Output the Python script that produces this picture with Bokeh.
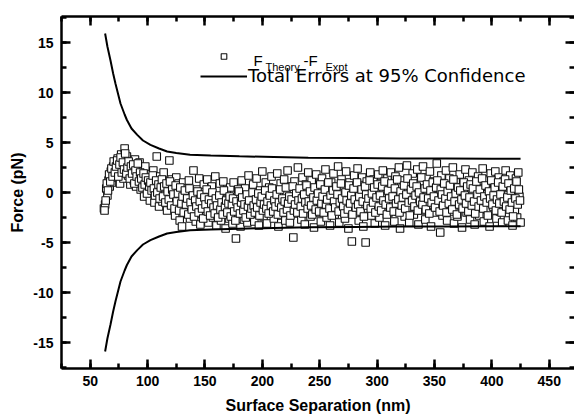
from bokeh.plotting import figure
from bokeh.models import (LinearAxis, SingleIntervalTicker, Range1d, Legend,
                          LegendItem, Label, CustomJSTickFormatter)
from bokeh.embed import file_html
from bokeh.resources import INLINE
import numpy as np

# ---- data ----
# residuals F_Theory - F_Expt, sampled on a 1 nm grid (two interleaved sweeps)
grid_a = (62, 425)
force_residual_a = [
    -1.6, -1.2, 0.4, -0.3, 1.2, 0.6, 2.1, 1.0, 2.6, 1.5,
    3.0, 1.8, 3.4, 2.2, 0.9, 3.8, 2.5, 1.4, 4.4, 2.9,
    3.6, 1.7, 2.8, 0.8, 3.1, 2.0, 1.2, 3.3, 0.6, 2.4,
    1.5, 3.0, 0.3, 2.1, 1.0, -0.4, 2.6, 1.2, 0.2, 1.8,
    -0.8, 1.4, 0.5, 2.2, -1.0, 0.9, 3.6, 0.1, -1.4, 1.6,
    0.4, -0.9, 2.0, -0.2, 1.1, -1.8, 0.7, 3.2, -0.5, 1.3,
    -1.2, 0.6, -2.3, 1.5, -0.3, 0.9, -2.8, 0.2, -3.4, 1.0,
    -1.5, 0.4, -2.0, -0.6, 1.2, -2.6, -0.1, -1.3, 2.2, -0.8,
    -2.9, 0.3, -1.6, 1.4, -3.2, -0.4, -1.9, 0.8, -2.4, -0.9,
    1.3, -3.0, -0.2, -1.7, 0.6, -2.5, -1.0, 1.6, -3.3, -0.5,
    -1.4, 0.9, -2.8, -0.7, 1.1, -2.1, -3.6, 0.2, -1.2, -2.6,
    0.5, -1.8, -3.1, 1.0, -0.6, -4.6, -2.2, 0.3, -1.5, -3.4,
    1.2, -0.9, -2.7, 0.4, -1.6, -3.0, 1.7, -0.3, -2.2, -1.1,
    0.8, -2.9, -0.5, 1.4, -1.9, -3.3, 0.2, -1.3, 2.1, -2.4,
    -0.7, 1.0, -3.1, -1.5, 0.5, -2.0, 1.6, -0.9, -2.6, 0.1,
    -1.7, 1.9, -3.4, -0.4, 0.9, -2.3, -1.0, 1.3, -2.8, -0.2,
    2.2, -1.4, -3.0, 0.6, -0.8, -4.5, 1.1, -2.1, -0.3, 2.5,
    -1.6, 0.3, -2.7, 1.5, -0.9, -3.2, 0.8, -1.8, 2.0, -0.5,
    -2.4, 1.2, -1.1, -3.5, 0.4, 1.8, -2.0, -0.6, 0.9, -2.9,
    1.4, -1.3, -0.2, 2.3, -2.5, 0.6, -1.7, -3.3, 1.0, -0.8,
    1.9, -2.2, 0.2, -1.0, 2.6, -3.0, -0.4, 1.3, -1.9, 0.7,
    -2.6, 2.1, -0.7, -3.6, 1.0, -1.4, -4.9, 0.4, 1.7, -2.1,
    -0.3, 2.4, -2.8, 0.8, -1.2, 1.5, -3.4, -0.1, -5.0, 1.1,
    -1.6, 0.5, 2.0, -2.3, -0.6, 1.3, -3.1, 0.2, -1.0, 1.8,
    -2.5, 0.9, -0.4, 2.2, -1.8, -3.3, 0.6, 1.4, -2.0, -0.7,
    2.0, -1.3, 0.3, -2.9, 1.6, -0.5, -1.9, 2.5, -3.6, 0.8,
    -1.1, 1.2, -2.4, 0.1, 2.7, -1.6, -3.0, 0.7, -0.4, 1.9,
    -2.2, 0.4, -1.4, 2.3, -3.2, -0.2, 1.0, -1.8, 2.6, -0.9,
    -2.7, 1.5, 0.2, -1.2, 2.1, -3.4, -0.5, 1.1, -2.0, 0.6,
    2.9, -1.5, -0.3, -4.0, 1.7, -2.3, 0.8, -1.0, 2.2, -2.8,
    -0.6, 1.4, -1.9, 0.3, 2.5, -3.1, -0.8, 1.0, -2.4, 0.5,
    1.8, -1.3, -3.5, 0.9, -0.4, 2.3, -2.0, -0.9, 1.2, -2.7,
    0.2, 2.0, -1.6, -3.2, 0.7, -0.7, 1.6, -2.3, 0.4, -1.1,
    2.4, -2.9, -0.2, 1.3, -1.7, 0.6, -3.4, 1.9, -0.5, -1.4,
    0.9, 2.1, -2.6, -0.8, 1.5, -1.9, 0.3, -3.0, 1.1, -0.6,
    2.2, -1.5, -2.8, 0.5, 1.7, -0.9, -3.3, 0.8, -1.8, 1.4,
    -2.5, 2.0, -0.4, -3.0,
]
grid_b = (62.5, 424.5)
force_residual_b = [
    -1.8, -0.8, 0.9, 0.2, 1.8, 1.1, 2.4, 1.6, 3.1, 2.0,
    2.6, 3.2, 1.6, 2.8, 3.5, 2.0, 3.0, 2.3, 3.9, 1.9,
    2.5, 3.1, 1.4, 2.6, 1.9, 2.8, 0.9, 2.2, 1.6, 2.9,
    1.1, 2.0, 1.4, 0.5, 1.9, 0.8, 1.5, -0.1, 1.2, 0.6,
    1.0, 0.2, 1.7, 0.4, -0.3, 1.2, 0.0, 0.8, -0.6, 0.5,
    1.3, -0.4, 0.6, -1.0, 0.9, 0.1, -0.7, 1.1, -1.3, 0.3,
    -0.2, -1.6, 0.7, -0.9, -0.1, -1.8, 0.5, -1.1, -0.4, -2.0,
    0.2, -1.2, -0.6, -2.2, 0.4, -1.0, -1.7, -0.3, -2.4, -0.8,
    -1.4, 0.1, -2.0, -0.9, -0.2, -1.6, -2.6, -0.5, -1.2, 0.3,
    -1.9, -0.7, -2.3, -1.1, 0.0, -1.5, -2.1, -0.6, -1.3, -2.5,
    -0.3, -1.7, -1.0, -2.2, 0.2, -1.4, -0.8, -2.0, -1.1, -0.4,
    -2.4, -1.2, -0.6, -1.9, -2.8, -0.9, -1.5, 0.1, -2.1, -1.0,
    -0.5, -1.8, -1.2, -2.5, -0.2, -1.4, -0.8, -2.2, -1.6, 0.0,
    -1.3, -2.0, -0.7, -1.5, -0.1, -2.3, -1.0, -0.4, -1.8, -1.2,
    0.2, -1.6, -0.9, -2.1, -0.3, -1.3, 0.4, -1.9, -0.8, -1.4,
    -0.2, -2.2, -1.0, 0.3, -1.5, -0.6, -2.0, -0.9, 0.5, -1.7,
    -1.1, -0.4, -2.3, -0.7, 0.6, -1.8, -1.2, -0.1, -2.0, -0.8,
    0.4, -1.4, -0.6, -2.1, -0.2, -1.0, 0.7, -1.6, -0.9, 0.1,
    -1.3, -2.2, -0.5, 0.5, -1.7, -0.8, -0.1, -1.9, 0.8, -1.1,
    -0.4, -2.0, 0.3, -1.2, -0.7, 1.0, -1.6, -0.3, -2.3, 0.2,
    -0.9, -1.5, 0.6, -0.2, -1.9, -1.0, 0.9, -0.6, -1.4, -2.1,
    0.0, -0.8, -1.7, 0.7, -1.1, -0.3, -2.2, 0.4, -0.7, -1.5,
    1.0, -1.2, -0.4, -1.9, 0.3, -0.9, -2.4, 0.6, -0.2, -1.3,
    -0.6, 1.2, -1.6, -0.1, -1.0, 0.5, -2.0, -0.5, 0.8, -1.4,
    -0.3, -1.8, 0.6, -0.8, 1.1, -1.2, -2.2, 0.2, -0.6, -1.5,
    0.9, -0.4, -1.9, 0.4, -1.1, 1.3, -0.7, -2.0, 0.1, -1.3,
    -0.5, 0.7, -1.6, -0.2, 1.4, -1.0, -2.3, 0.3, -0.8, 0.9,
    -1.4, -0.3, 0.6, -1.8, 0.0, -0.9, 1.5, -1.2, -0.5, 0.4,
    -1.7, 0.8, -0.6, -2.1, 0.2, -1.0, 1.0, -0.4, -1.5, 0.5,
    1.2, -0.8, -1.9, 0.3, -0.2, -1.3, 0.9, -0.6, -2.0, 0.1,
    -1.1, 0.7, -0.4, -1.7, 1.3, -0.9, -0.1, -2.2, 0.5, -1.2,
    0.2, -0.7, -1.6, 1.0, -0.3, -1.1, 0.6, -1.9, -0.5, 0.8,
    -1.3, 0.4, -0.9, -2.1, 1.1, -0.2, -1.4, 0.3, -0.8, 1.4,
    -1.6, -0.4, 0.7, -1.0, -2.3, 0.1, -0.6, 1.2, -1.2, -0.3,
    0.5, -1.8, -0.7, 1.0, -1.1, -0.2, -2.0, 0.6, -0.9, 1.3,
    -1.4, -0.5, 0.9, -1.7, 0.2, -1.0, -2.4, 0.4, -0.6, 1.1,
    -1.2, 0.3, -0.8,
]
separation = np.concatenate([np.linspace(*grid_a, len(force_residual_a)),
                             np.linspace(*grid_b, len(force_residual_b))])
force_residual = force_residual_a + force_residual_b

error_x = [63, 65, 67.7, 70, 72, 76.4, 80, 82, 86, 91, 96, 102.5, 110, 117,
           125, 137, 155, 180, 210, 240, 280, 320, 360, 400, 425]
error_upper = [15.9, 14.6, 13.2, 11.9, 10.9, 8.9, 7.8, 7.25, 6.4, 5.76, 5.2,
               4.77, 4.4, 4.10, 3.95, 3.78, 3.70, 3.62, 3.55, 3.48, 3.44,
               3.41, 3.39, 3.38, 3.37]
error_lower = [-15.9, -14.6, -13.2, -11.9, -10.9, -8.9, -7.8, -7.25, -6.4,
               -5.76, -5.2, -4.77, -4.4, -4.10, -3.95, -3.78, -3.70, -3.62,
               -3.55, -3.48, -3.44, -3.41, -3.39, -3.38, -3.37]

x_tick_interval = 50
y_tick_interval = 5
legend_line_text = "Total Errors at 95% Confidence"

# ---- figure ----
p = figure(width=574, height=416, output_backend="svg", toolbar_location=None,
           x_range=Range1d(25, 472), y_range=Range1d(-17.6, 17.6),
           min_border_left=61, min_border_top=16, min_border_bottom=46,
           min_border_right=0,
           x_axis_label="Surface Separation (nm)", y_axis_label="Force (pN)")
p.outline_line_color = None
p.grid.visible = False
p.background_fill_color = "white"
p.border_fill_color = "white"

p.xaxis.ticker = SingleIntervalTicker(interval=x_tick_interval, num_minor_ticks=2)
p.yaxis.ticker = SingleIntervalTicker(interval=y_tick_interval, num_minor_ticks=2)

plain = CustomJSTickFormatter(code="return tick.toString();")
blank = CustomJSTickFormatter(code="return '';")

def style(ax, labels=True):
    ax.axis_line_width = 2.5
    ax.axis_line_color = "black"
    ax.major_tick_line_width = 2.5
    ax.minor_tick_line_width = 2.5
    ax.major_tick_line_color = "black"
    ax.minor_tick_line_color = "black"
    ax.major_tick_in = 9
    ax.major_tick_out = 0
    ax.minor_tick_in = 5
    ax.minor_tick_out = 0
    if labels:
        ax.formatter = plain
        ax.major_label_text_font = "Liberation Sans"
        ax.major_label_text_font_style = "bold"
        ax.major_label_text_font_size = "14px"
        ax.major_label_text_color = "black"
        ax.axis_label_text_font = "Liberation Sans"
        ax.axis_label_text_font_style = "bold"
        ax.axis_label_text_font_size = "16px"
        ax.axis_label_text_color = "black"
    else:
        ax.formatter = blank
        ax.major_label_text_font_size = "1px"
        ax.major_label_standoff = 0

for ax in p.xaxis:
    style(ax)
    ax.major_label_standoff = 7
    ax.axis_label_standoff = 8
for ax in p.yaxis:
    style(ax)
    ax.major_label_standoff = 8
    ax.axis_label_standoff = 4

top = LinearAxis(ticker=SingleIntervalTicker(interval=x_tick_interval, num_minor_ticks=2))
style(top, labels=False)
p.add_layout(top, "above")
right = LinearAxis(ticker=SingleIntervalTicker(interval=y_tick_interval, num_minor_ticks=2))
style(right, labels=False)
right.axis_line_color = None
p.add_layout(right, "right")

sq = p.scatter(separation, force_residual, marker="square", size=7.5,
               line_color="#111111", fill_color="white", line_width=1.1)
up = p.line(error_x, error_upper, line_color="black", line_width=2)
lo = p.line(error_x, error_lower, line_color="black", line_width=2)

common = dict(orientation="vertical", padding=0, margin=0, spacing=0,
              glyph_width=47, label_standoff=1, label_text_color="black",
              border_line_color=None, background_fill_alpha=0)
leg_sq = Legend(items=[LegendItem(label=" ", renderers=[sq])],
                location=(139, 305), glyph_height=14, label_height=14,
                label_text_font_size="8px", **common)
leg_line = Legend(items=[LegendItem(label=legend_line_text, renderers=[up])],
                  location=(139, 282), glyph_height=18, label_height=18,
                  label_text_font="DejaVu Sans", label_text_font_size="18px",
                  **common)
p.add_layout(leg_sq)
p.add_layout(leg_line)

def lab(txt, x, y, size):
    p.add_layout(Label(x=x, y=y, x_units="screen", y_units="screen", text=txt,
                       text_font="Liberation Sans", text_font_size=size,
                       text_color="black", text_baseline="alphabetic"))

lab("F", 192, 308, "15px")
lab("Theory", 204, 302, "11px")
lab("-F", 242, 308, "15px")
lab("Expt", 264, 302, "11px")

open("out.html", "w").write(file_html(p, INLINE))
